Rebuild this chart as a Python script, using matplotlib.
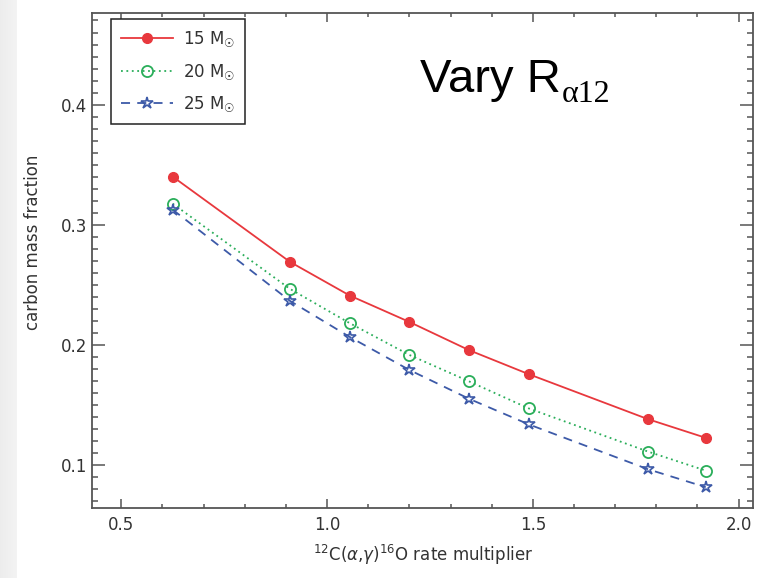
import numpy as np
import matplotlib
matplotlib.use("Agg")
import matplotlib.pyplot as plt
from matplotlib.ticker import MultipleLocator, FormatStrFormatter

plt.rcParams["font.family"] = ["DejaVu Sans"]
plt.rcParams["mathtext.fontset"] = "custom"
plt.rcParams["mathtext.rm"] = "Liberation Serif"
plt.rcParams["mathtext.sf"] = "DejaVu Sans"
plt.rcParams["mathtext.it"] = "DejaVu Sans:italic"

# rate multiplier applied to 12C(a,g)16O
multiplier = [0.625, 0.91, 1.055, 1.20, 1.345, 1.49, 1.78, 1.92]

# central carbon mass fraction per initial mass
carbon_15 = [0.340, 0.269, 0.241, 0.219, 0.1955, 0.1755, 0.138, 0.1225]
carbon_20 = [0.3175, 0.2465, 0.218, 0.1915, 0.1695, 0.147, 0.111, 0.0952]
carbon_25 = [0.3125, 0.2365, 0.2065, 0.179, 0.155, 0.1337, 0.0963, 0.0814]

series_labels = [r"15 M$_{\mathsf{☉}}$", r"20 M$_{\mathsf{☉}}$", r"25 M$_{\mathsf{☉}}$"]

red = "#e8383d"
green = "#2aae5a"
blue = "#3d5aa8"
frame = "#555555"
text_col = "#333333"

fig = plt.figure(figsize=(7.7, 5.78), dpi=100)

# light grey strip down the left edge
bg = fig.add_axes([0, 0, 1, 1], zorder=-5)
bg.axis("off")
shade = np.ones((2, 770))
shade[:, :17] = np.linspace(0.925, 0.95, 17)
bg.imshow(shade, cmap="gray", vmin=0, vmax=1, aspect="auto", extent=[0, 1, 0, 1])
bg.set_xlim(0, 1)
bg.set_ylim(0, 1)

ax = fig.add_axes([0.120, 0.121, 0.858, 0.856])

ax.plot(multiplier, carbon_15, color=red, lw=1.3, ls="-",
        marker="o", ms=7, mfc=red, mec=red, label=series_labels[0])
ax.plot(multiplier, carbon_20, color=green, lw=1.3, ls=(0, (1, 2)),
        marker="o", ms=8, mfc="none", mec=green, mew=1.3, label=series_labels[1])
ax.plot(multiplier, carbon_25, color=blue, lw=1.3, ls=(0, (5, 4)),
        marker="*", ms=9, mfc="none", mec=blue, mew=1.2, label=series_labels[2])

ax.set_xlim(0.43, 2.035)
ax.set_ylim(0.064, 0.476)

ax.xaxis.set_major_locator(MultipleLocator(0.5))
ax.xaxis.set_minor_locator(MultipleLocator(0.1))
ax.yaxis.set_major_locator(MultipleLocator(0.1))
ax.yaxis.set_minor_locator(MultipleLocator(0.01))
ax.xaxis.set_major_formatter(FormatStrFormatter("%.1f"))
ax.yaxis.set_major_formatter(FormatStrFormatter("%.1f"))

ax.tick_params(which="both", direction="in", top=True, right=True,
               colors=frame, labelcolor=text_col, labelsize=12, width=1.1)
ax.tick_params(axis="x", which="major", length=6.5, pad=6)
ax.tick_params(axis="x", which="minor", length=3)
ax.tick_params(axis="y", which="major", length=9.5, pad=4)
ax.tick_params(axis="y", which="minor", length=4.5)

for sp in ax.spines.values():
    sp.set_color(frame)
    sp.set_linewidth(1.3)

ax.set_xlabel(r"$^{\mathsf{12}}$C($\alpha$,$\gamma$)$^{\mathsf{16}}$O rate multiplier",
              fontsize=12, color=text_col, labelpad=6)
ax.set_ylabel("carbon mass fraction", fontsize=12, color=text_col)
ax.yaxis.set_label_coords(-0.076, 0.537)

leg = ax.legend(loc="upper left", bbox_to_anchor=(0.028, 0.988), borderaxespad=0,
                fontsize=12, handlelength=3.1, handletextpad=0.6, labelspacing=0.75,
                borderpad=0.6, fancybox=False, framealpha=1, labelcolor=text_col)
leg.get_frame().set_edgecolor("#222222")
leg.get_frame().set_linewidth(1.1)

fig.text(0.545, 0.841, "Vary R", fontsize=34, color="black",
         va="baseline", ha="left", family="Liberation Sans")
fig.text(0.729, 0.823, "α12", fontsize=23, color="black",
         va="baseline", ha="left", family="Liberation Serif")

fig.savefig("out.png", dpi=100)
